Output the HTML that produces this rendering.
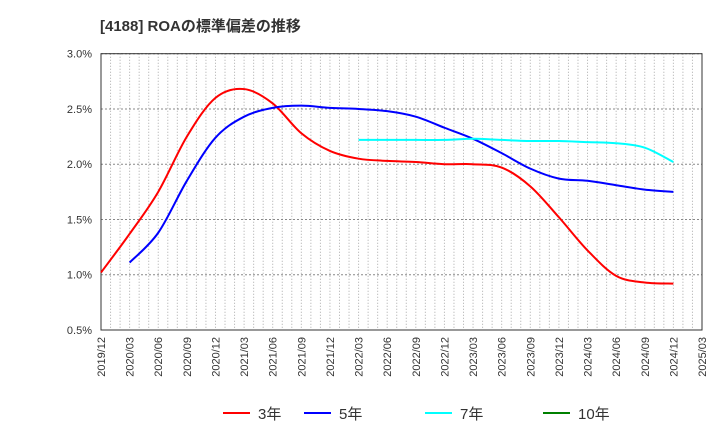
<!DOCTYPE html>
<html><head><meta charset="utf-8"><style>
body{margin:0;background:#fff;}
svg{font-family:"Liberation Sans","Noto Sans CJK JP",sans-serif;}
</style></head><body>
<svg id="c" width="720" height="440" xmlns="http://www.w3.org/2000/svg">
<text x="100" y="31" font-size="15" font-weight="bold" fill="#333">[4188]  ROAの標準偏差の推移</text>
<g id="grid"></g><g id="axes"></g><g id="series"></g><g id="legend"></g>
</svg>
<script>
const xTickLabels=["2019/12","2020/03","2020/06","2020/09","2020/12","2021/03","2021/06","2021/09","2021/12","2022/03","2022/06","2022/09","2022/12","2023/03","2023/06","2023/09","2023/12","2024/03","2024/06","2024/09","2024/12","2025/03"];
const yTicks=[0.5,1.0,1.5,2.0,2.5,3.0];
const months3=[0,3,6,9,12,15,18,21,24,27,30,33,36,39,42,45,48,51,54,57,60];
const vals3=[1.02,1.37,1.75,2.25,2.60,2.68,2.55,2.28,2.12,2.05,2.03,2.02,2.00,2.00,1.97,1.80,1.52,1.22,0.99,0.93,0.92];
const months5=[3,6,9,12,15,18,21,24,27,30,33,36,39,42,45,48,51,54,57,60];
const vals5=[1.11,1.38,1.85,2.24,2.43,2.51,2.53,2.51,2.50,2.48,2.43,2.33,2.23,2.10,1.96,1.87,1.85,1.81,1.77,1.75];
const months7=[27,30,33,36,39,42,45,48,51,54,57,60];
const vals7=[2.22,2.22,2.22,2.22,2.23,2.22,2.21,2.21,2.20,2.19,2.15,2.02];
const months10=[];const vals10=[];
const L=101,R=702,T=53.7,B=330,NM=63;
const X=m=>L+(R-L)*m/NM;
const Y=v=>B-(v-0.5)/2.5*(B-T);
const NS="http://www.w3.org/2000/svg";
function mk(t,a,p){const e=document.createElementNS(NS,t);for(const k in a)e.setAttribute(k,a[k]);p.appendChild(e);return e;}
const grid=document.getElementById('grid'),axes=document.getElementById('axes'),ser=document.getElementById('series'),leg=document.getElementById('legend');
for(let m=1;m<NM;m++){const l=mk('line',{x1:X(m),x2:X(m),y1:T,y2:B,stroke:'#aaa','stroke-width':1,'stroke-dasharray':'1,2'},grid);

}
yTicks.forEach(v=>{const l=mk('line',{x1:L,x2:R,y1:Y(v),y2:Y(v),stroke:'#888','stroke-width':1,'stroke-dasharray':'2,2'},grid);


const t=mk('text',{x:92,y:Y(v)+4,'font-size':11,fill:'#333','text-anchor':'end'},axes);t.textContent=v.toFixed(1)+'%';

});
const fr=mk('rect',{x:L,y:T,width:R-L,height:B-T,fill:'none',stroke:'#333','stroke-width':1},axes);


xTickLabels.forEach((s,i)=>{const x=X(i*3)+4;const t=mk('text',{x:x,y:337,'font-size':11,fill:'#333','text-anchor':'end',transform:`rotate(-90 ${x} 337)`},axes);t.textContent=s;

});
function path(ms,vs){if(!ms.length)return'';const p=ms.map((m,i)=>[X(m),Y(vs[i])]);let d=`M${p[0][0]},${p[0][1]}`;
for(let i=0;i<p.length-1;i++){const p0=p[i-1]||p[i],p1=p[i],p2=p[i+1],p3=p[i+2]||p2;
d+=`C${p1[0]+(p2[0]-p0[0])/6},${p1[1]+(p2[1]-p0[1])/6} ${p2[0]-(p3[0]-p1[0])/6},${p2[1]-(p3[1]-p1[1])/6} ${p2[0]},${p2[1]}`;}return d;}
const S=[["3年",months3,vals3,"#ff0000","series-3y"],["5年",months5,vals5,"#0000ff","series-5y"],["7年",months7,vals7,"#00ffff","series-7y"],["10年",months10,vals10,"#008000","series-10y"]];
const lx=[223,304,425,543];
S.forEach((s,i)=>{const p=mk('path',{d:path(s[1],s[2]),fill:'none',stroke:s[3],'stroke-width':2},ser);


const g=mk('g',{},leg);


mk('line',{x1:lx[i],x2:lx[i]+27,y1:413,y2:413,stroke:s[3],'stroke-width':2},g);
const t=mk('text',{x:lx[i]+35,y:419,'font-size':15,fill:'#333'},g);t.textContent=s[0];});
</script>
</body></html>
